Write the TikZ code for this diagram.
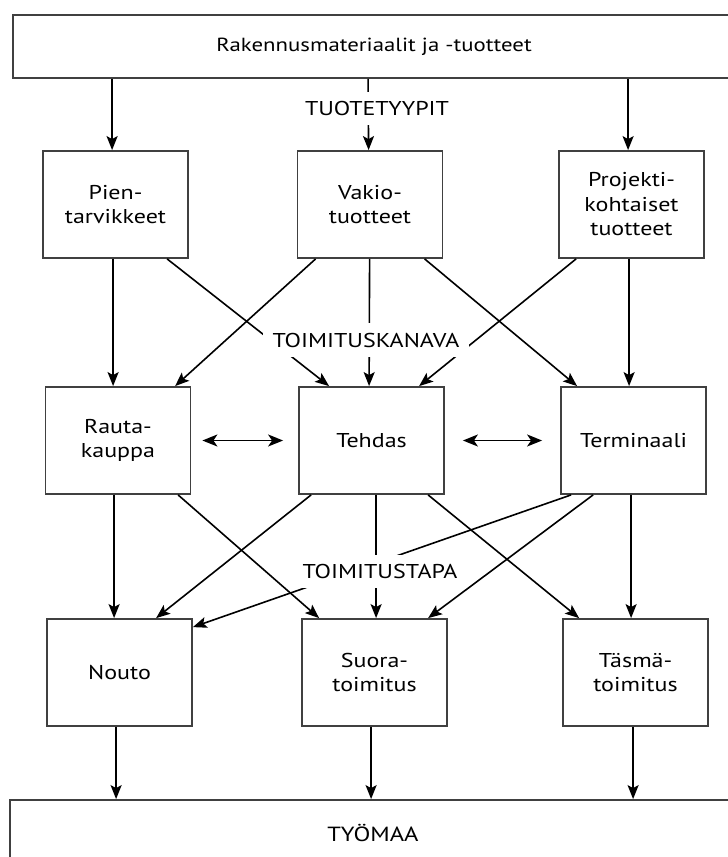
\documentclass[tikz,border=0pt]{standalone}
\usepackage{fontspec}
\setmainfont{PT Sans}[FakeStretch=1.2]
\usetikzlibrary{arrows.meta}
\begin{document}
\begin{tikzpicture}[x=1pt,y=-1pt,
  nbox/.style={draw=black!75, line width=1.8pt, minimum width=145pt, minimum height=107pt,
    align=center, inner sep=0pt, text=black, font=\fontsize{20}{24.5}\selectfont},
  wide/.style={draw=black!75, line width=1.8pt, inner sep=0pt, text=black,
    font=\fontsize{19}{24.5}\selectfont},
  lbl/.style={fill=white, inner sep=0pt, minimum height=33pt, text=black,
    font=\fontsize{20}{24.5}\selectfont},
  arr/.style={line width=1.6pt, -{Stealth[length=14pt,width=11pt,inset=3pt]}},
  darr/.style={line width=1.6pt, {Stealth[length=15pt,width=12pt,inset=4pt]}-{Stealth[length=15pt,width=12pt,inset=4pt]}}
]
\useasboundingbox (0,0) rectangle (728,857);

% main boxes
\node[wide, minimum width=722pt, minimum height=63pt] (top) at (374,46.5) {Rakennusmateriaalit ja -tuotteet};
\node[wide, minimum width=726pt, minimum height=66pt, font=\fontsize{20.5}{24.5}\selectfont] (work) at (373,833) {TYÖMAA};

\node[nbox] (pien)  at (115.5,204.5) {Pien-\\tarvikkeet};
\node[nbox] (vakio) at (370,204.5) {Vakio-\\tuotteet};
\node[nbox] (proj)  at (631.5,204.5) {Projekti-\\kohtaiset\\tuotteet};

\node[nbox] (rauta)  at (118,440.5) {Rauta-\\kauppa};
\node[nbox] (tehdas) at (371.5,440.5) {Tehdas};
\node[nbox] (term)   at (633.5,440.5) {Terminaali};

\node[nbox] (nouto) at (119.5,672.5) {Nouto};
\node[nbox] (suora) at (374.5,672.5) {Suora-\\toimitus};
\node[nbox] (tasma) at (635.5,672.5) {Täsmä-\\toimitus};

% top -> product types
\draw[arr] ([xshift=100pt]top.south west) -- ([xshift=70pt]pien.north west);
\draw[arr] ([xshift=356pt]top.south west) -- ([xshift=72pt]vakio.north west);
\draw[arr] ([xshift=616pt]top.south west) -- ([xshift=70pt]proj.north west);

% product types -> channels
\draw[arr] ([xshift=71pt]pien.south west)  -- ([xshift=68.5pt]rauta.north west);
\draw[arr] ([xshift=125pt]pien.south west) -- ([xshift=31pt]tehdas.north west);
\draw[arr] ([xshift=19pt]vakio.south west) -- ([xshift=130.5pt]rauta.north west);
\draw[arr] ([xshift=73pt]vakio.south west) -- ([xshift=71pt]tehdas.north west);
\draw[arr] ([xshift=128pt]vakio.south west) -- ([xshift=17pt]term.north west);
\draw[arr] ([xshift=18pt]proj.south west)  -- ([xshift=121pt]tehdas.north west);
\draw[arr] ([xshift=71pt]proj.south west)  -- ([xshift=69pt]term.north west);

% between channels
\draw[darr] ([xshift=11pt]rauta.east) -- ([xshift=-15pt]tehdas.west);
\draw[darr] ([xshift=18pt]tehdas.east) -- ([xshift=-18pt]term.west);

% channels -> delivery modes
\draw[arr] ([xshift=69.5pt]rauta.south west) -- ([xshift=68pt]nouto.north west);
\draw[arr] ([xshift=133.5pt]rauta.south west) -- ([xshift=18pt]suora.north west);
\draw[arr] ([xshift=13pt]tehdas.south west) -- ([xshift=110pt]nouto.north west);
\draw[arr] ([xshift=78pt]tehdas.south west) -- ([xshift=75pt]suora.north west);
\draw[arr] ([xshift=130pt]tehdas.south west) -- ([xshift=17pt]tasma.north west);
\draw[arr] ([xshift=11pt]term.south west) -- ([yshift=-9pt]nouto.north east);
\draw[arr] ([xshift=33pt]term.south west) -- ([xshift=127pt]suora.north west);
\draw[arr] ([xshift=71pt]term.south west) -- ([xshift=69pt]tasma.north west);

% delivery modes -> site
\draw[arr] ([xshift=70pt]nouto.south west) -- ([xshift=107pt]work.north west);
\draw[arr] ([xshift=70pt]suora.south west) -- ([xshift=362pt]work.north west);
\draw[arr] ([xshift=71pt]tasma.south west) -- ([xshift=624pt]work.north west);

% level labels (masking the lines behind them)
\node[lbl, minimum width=150pt] (tyypit) at (377,108.5) {TUOTETYYPIT};
\node[lbl, minimum width=206pt, minimum height=34pt] (kanava) at (366,340) {TOIMITUSKANAVA};
\node[lbl, minimum width=160pt] (tapa) at (380,571.5) {TOIMITUSTAPA};
\end{tikzpicture}
\end{document}
